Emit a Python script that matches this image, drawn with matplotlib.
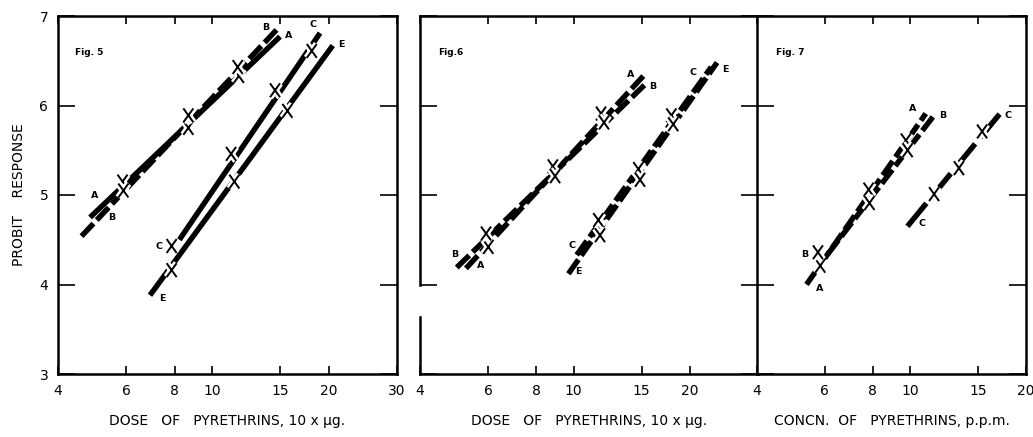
import matplotlib
matplotlib.use("Agg")
import matplotlib.pyplot as plt
import matplotlib.patheffects as pe
from matplotlib.path import Path
from matplotlib.ticker import FixedLocator, NullLocator, FixedFormatter

plt.rcParams['font.family'] = ['DejaVu Sans']

# ---- Fig. 5 : probit lines (end points) and observed points ----
fig5_A_line_x = [4.84, 14.97]
fig5_A_line_y = [4.75, 6.77]
fig5_B_line_x = [4.60, 14.70]
fig5_B_line_y = [4.54, 6.85]
fig5_C_line_x = [8.23, 18.99]
fig5_C_line_y = [4.50, 6.81]
fig5_E_line_x = [6.91, 20.48]
fig5_E_line_y = [3.88, 6.67]
fig5_A_pts_x = [5.87, 8.68, 11.72]
fig5_A_pts_y = [5.15, 5.75, 6.33]
fig5_B_pts_x = [5.90, 8.68, 11.64]
fig5_B_pts_y = [5.05, 5.89, 6.43]
fig5_C_pts_x = [7.86, 11.19, 14.53, 18.08]
fig5_C_pts_y = [4.43, 5.46, 6.17, 6.61]
fig5_E_pts_x = [7.86, 11.41, 15.64]
fig5_E_pts_y = [4.16, 5.15, 5.94]

# ---- Fig. 6 ----
fig6_A_line_x = [5.26, 15.15]
fig6_A_line_y = [4.18, 6.33]
fig6_B_line_x = [4.98, 15.51]
fig6_B_line_y = [4.19, 6.26]
fig6_C_line_x = [10.18, 22.70]
fig6_C_line_y = [4.33, 6.43]
fig6_E_line_x = [9.69, 23.50]
fig6_E_line_y = [4.12, 6.48]
fig6_A_pts_x = [6.01, 8.83, 11.77]
fig6_A_pts_y = [4.42, 5.32, 5.91]
fig6_B_pts_x = [5.93, 8.95, 11.98]
fig6_B_pts_y = [4.57, 5.21, 5.81]
fig6_C_pts_x = [11.58, 14.70, 17.90]
fig6_C_pts_y = [4.72, 5.29, 5.89]
fig6_E_pts_x = [11.70, 14.85, 18.10]
fig6_E_pts_y = [4.55, 5.17, 5.79]

# ---- Fig. 7 ----
fig7_A_line_x = [5.38, 10.98]
fig7_A_line_y = [4.00, 5.91]
fig7_B_line_x = [6.11, 11.54]
fig7_B_line_y = [4.34, 5.89]
fig7_C_line_x = [9.84, 17.50]
fig7_C_line_y = [4.65, 5.96]
fig7_A_pts_x = [5.84, 7.80, 9.75]
fig7_A_pts_y = [4.21, 5.06, 5.61]
fig7_B_pts_x = [5.76, 7.84, 9.85]
fig7_B_pts_y = [4.36, 4.91, 5.50]
fig7_C_pts_x = [11.54, 13.39, 15.38]
fig7_C_pts_y = [5.01, 5.30, 5.71]

# curve letters: (letter, x, y)
fig5_letters = [("A", 4.98, 4.99), ("B", 5.50, 4.75), ("B", 13.73, 6.87), ("A", 15.73, 6.78),
                ("C", 7.30, 4.42), ("C", 18.25, 6.91), ("E", 7.44, 3.84), ("E", 21.6, 6.68)]
fig6_letters = [("B", 4.93, 4.34), ("A", 5.75, 4.21), ("A", 14.08, 6.35), ("B", 15.98, 6.21),
                ("C", 9.88, 4.44), ("E", 10.28, 4.15), ("C", 20.4, 6.37), ("E", 24.76, 6.40)]
fig7_letters = [("A", 10.15, 5.97), ("B", 12.12, 5.89), ("B", 5.32, 4.34), ("A", 5.82, 3.96),
                ("C", 10.73, 4.68), ("C", 17.96, 5.89)]

y_ticks = [3, 4, 5, 6, 7]

W, H = 1033, 437
fig = plt.figure(figsize=(W / 100, H / 100), dpi=100)

# X-shaped marker (taller than wide, like a lettered cross)
xverts = [(-0.36, -0.5), (0.36, 0.5), (-0.36, 0.5), (0.36, -0.5)]
xcodes = [Path.MOVETO, Path.LINETO, Path.MOVETO, Path.LINETO]
XMARK = Path(xverts, xcodes)

LW = 3.9
SOLID = '-'
DASHED = (0, (3.2, 0.9))
LONGDASH = (0, (5.5, 1.6))


def axes_px(left, right, top=16, bottom=374):
    return fig.add_axes([left / W, 1 - bottom / H, (right - left) / W, (bottom - top) / H])


def draw_line(ax, xs, ys, style):
    ax.plot(xs, ys, color='black', lw=LW, linestyle=style,
            solid_capstyle='butt', dash_capstyle='butt', zorder=2)


def draw_pts(ax, xs, ys):
    ax.plot(xs, ys, linestyle='none', marker=XMARK, markersize=10,
            markeredgewidth=1.4, color='black', zorder=4,
            path_effects=[pe.Stroke(linewidth=5, foreground='white'), pe.Normal()])


def setup(ax, xmax, xticks, xlabels, ylabels):
    ax.set_xscale('log')
    ax.set_xlim(4, xmax)
    ax.set_ylim(3, 7)
    ax.xaxis.set_major_locator(FixedLocator(xticks))
    ax.xaxis.set_major_formatter(FixedFormatter(xlabels))
    ax.xaxis.set_minor_locator(NullLocator())
    ax.yaxis.set_major_locator(FixedLocator(y_ticks))
    ax.yaxis.set_minor_locator(NullLocator())
    ax.tick_params(axis='x', which='major', direction='in', length=6, width=1.2,
                   top=True, bottom=True, labelsize=10, pad=7)
    ax.tick_params(axis='y', which='major', direction='in', length=12, width=1.2,
                   left=True, right=True, labelsize=10, pad=7,
                   labelleft=ylabels)
    for s in ax.spines.values():
        s.set_linewidth(1.8)


def letters(ax, items):
    for s, x, y in items:
        ax.text(x, y, s, fontsize=6.8, fontweight='bold', ha='center', va='center', zorder=5)


# ---- panel 1 ----
ax1 = axes_px(58, 397)
setup(ax1, 30, [4, 6, 8, 10, 15, 20, 30], ["4", "6", "8", "10", "15", "20", "30"], True)
ax1.set_yticklabels([str(v) for v in y_ticks])
draw_line(ax1, fig5_A_line_x, fig5_A_line_y, SOLID)
draw_line(ax1, fig5_B_line_x, fig5_B_line_y, DASHED)
draw_line(ax1, fig5_C_line_x, fig5_C_line_y, SOLID)
draw_line(ax1, fig5_E_line_x, fig5_E_line_y, SOLID)
for xs, ys in [(fig5_A_pts_x, fig5_A_pts_y), (fig5_B_pts_x, fig5_B_pts_y),
               (fig5_C_pts_x, fig5_C_pts_y), (fig5_E_pts_x, fig5_E_pts_y)]:
    draw_pts(ax1, xs, ys)
letters(ax1, fig5_letters)
ax1.text(0.05, 0.89, "Fig. 5", transform=ax1.transAxes, fontsize=6.5, fontweight='bold')
ax1.set_xlabel("DOSE   OF   PYRETHRINS, 10 x \u00b5g.", fontsize=10, labelpad=12)
ax1.set_ylabel("PROBIT    RESPONSE", fontsize=10, labelpad=10)

# ---- panel 2 ----
ax2 = axes_px(420, 758)
setup(ax2, 30, [4, 6, 8, 10, 15, 20, 30], ["4", "6", "8", "10", "15", "20", ""], False)
draw_line(ax2, fig6_A_line_x, fig6_A_line_y, DASHED)
draw_line(ax2, fig6_B_line_x, fig6_B_line_y, DASHED)
draw_line(ax2, fig6_C_line_x, fig6_C_line_y, DASHED)
draw_line(ax2, fig6_E_line_x, fig6_E_line_y, DASHED)
for xs, ys in [(fig6_A_pts_x, fig6_A_pts_y), (fig6_B_pts_x, fig6_B_pts_y),
               (fig6_C_pts_x, fig6_C_pts_y), (fig6_E_pts_x, fig6_E_pts_y)]:
    draw_pts(ax2, xs, ys)
letters(ax2, fig6_letters)
ax2.text(0.055, 0.89, "Fig.6", transform=ax2.transAxes, fontsize=6.5, fontweight='bold')
ax2.set_xlabel("DOSE   OF   PYRETHRINS, 10 x \u00b5g.", fontsize=10, labelpad=12)
# left frame line with a break just below the 4-probit level
ax2.spines['left'].set_visible(False)
for y0, y1 in [(0.0, 0.16), (0.25, 1.0)]:
    ax2.plot([0, 0], [y0, y1], transform=ax2.transAxes, color='black', lw=1.8,
             clip_on=False, solid_capstyle='projecting')

# ---- panel 3 ----
ax3 = axes_px(757, 1026)
setup(ax3, 20, [4, 6, 8, 10, 15, 20], ["4", "6", "8", "10", "15", "20"], False)
draw_line(ax3, fig7_A_line_x, fig7_A_line_y, DASHED)
draw_line(ax3, fig7_B_line_x, fig7_B_line_y, DASHED)
draw_line(ax3, fig7_C_line_x, fig7_C_line_y, LONGDASH)
for xs, ys in [(fig7_A_pts_x, fig7_A_pts_y), (fig7_B_pts_x, fig7_B_pts_y),
               (fig7_C_pts_x, fig7_C_pts_y)]:
    draw_pts(ax3, xs, ys)
letters(ax3, fig7_letters)
ax3.text(0.07, 0.89, "Fig. 7", transform=ax3.transAxes, fontsize=6.5, fontweight='bold')
ax3.set_xlabel("CONCN.  OF   PYRETHRINS, p.p.m.", fontsize=10, labelpad=12)

fig.savefig("out.png", dpi=100, facecolor='white')
